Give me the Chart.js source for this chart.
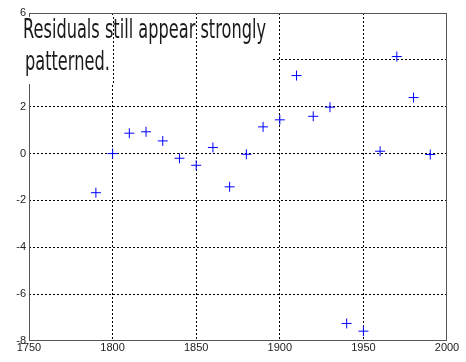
<!DOCTYPE html>
<html>
<head>
<meta charset="utf-8">
<script src="https://cdn.jsdelivr.net/npm/chart.js@4"></script>
<style>
  html, body { margin: 0; padding: 0; background: #fff; }
  #wrap { width: 466px; height: 362px; }
</style>
</head>
<body>
<div id="wrap"><canvas id="grafico" width="466" height="362"></canvas></div>
<script>
// census residuals, one per decade
const anos = [1790, 1800, 1810, 1820, 1830, 1840, 1850, 1860, 1870, 1880, 1890,
              1900, 1910, 1920, 1930, 1940, 1950, 1960, 1970, 1980, 1990];
const residuos = [-1.67, 0.0, 0.87, 0.93, 0.54, -0.2, -0.5, 0.26, -1.42, -0.03, 1.14,
                  1.44, 3.33, 1.59, 1.98, -7.25, -7.58, 0.1, 4.14, 2.39, -0.04];
const ticksX = [1750, 1800, 1850, 1900, 1950, 2000];
const ticksY = [-8, -6, -4, -2, 0, 2, 4, 6];
const nota = ["Residuals still appear strongly", "patterned."];

const fonteTick = { family: "'Liberation Sans', Arial, sans-serif", size: 11 };

// white note box over the top-left of the plot, with the text
const caixaNota = {
    id: 'caixaNota',
    afterDatasetsDraw(chart) {
        const ctx = chart.ctx;
        const area = chart.chartArea;
        const sx = chart.scales.x;
        ctx.save();
        // frame (top and right too)
        ctx.strokeStyle = '#555';
        ctx.lineWidth = 1;
        ctx.strokeRect(area.left + 0.5, area.top + 0.5, area.right - area.left - 1, area.bottom - area.top - 1);
        ctx.fillStyle = '#fff';
        ctx.fillRect(19, 17, 253, 67);
        // vertical grid lines show through the box
        ctx.strokeStyle = '#000';
        ctx.setLineDash([2, 2]);
        [1800, 1850].forEach(v => {
            const px = Math.round(sx.getPixelForValue(v)) + 0.5;
            ctx.beginPath();
            ctx.moveTo(px, 17);
            ctx.lineTo(px, 84);
            ctx.stroke();
        });
        ctx.setLineDash([]);
        // condensed look: squeeze a normal font horizontally
        ctx.fillStyle = '#1a1a1a';
        ctx.font = "27px 'DejaVu Sans', sans-serif";
        ctx.textBaseline = 'alphabetic';
        const esc = 243 / ctx.measureText(nota[0]).width;
        ctx.translate(23, 0);
        ctx.scale(esc, 1);
        ctx.fillText(nota[0], 0, 38);
        ctx.fillText(nota[1], 2 / esc, 70);
        ctx.restore();
    }
};

const ctx = document.getElementById('grafico').getContext('2d');
const graficoResiduos = new Chart(ctx, {
    type: 'scatter',
    data: {
        datasets: [{
            data: anos.map((a, i) => ({ x: a, y: residuos[i] })),
            pointStyle: 'cross',
            pointRadius: 5,
            pointHoverRadius: 5,
            borderColor: '#0000ff',
            backgroundColor: '#0000ff',
            borderWidth: 1
        }]
    },
    plugins: [caixaNota],
    options: {
        responsive: false,
        animation: false,
        layout: { padding: { top: 13, right: 19, left: 0, bottom: 0 } },
        plugins: {
            legend: { display: false },
            tooltip: { enabled: false }
        },
        scales: {
            x: {
                type: 'linear',
                min: 1750,
                max: 2000,
                afterBuildTicks: axis => { axis.ticks = ticksX.map(v => ({ value: v })); },
                afterFit: axis => { axis.height = 21; },
                ticks: { color: '#222', font: fonteTick, padding: 0, maxRotation: 0, callback: v => String(v) },
                grid: {
                    drawTicks: false,
                    color: c => (c.tick.value === 1750 || c.tick.value === 2000) ? 'rgba(0,0,0,0)' : '#000',
                    lineWidth: 1
                },
                border: { display: false, dash: [2, 2] }
            },
            y: {
                min: -8,
                max: 6,
                afterBuildTicks: axis => { axis.ticks = ticksY.map(v => ({ value: v })); },
                afterFit: axis => { axis.width = 29; },
                ticks: { color: '#222', font: fonteTick, padding: 3, callback: v => String(v) },
                grid: {
                    drawTicks: false,
                    color: c => (c.tick.value === -8 || c.tick.value === 6) ? 'rgba(0,0,0,0)' : '#000',
                    lineWidth: 1
                },
                border: { display: false, dash: [2, 2] }
            }
        }
    }
});
</script>
</body>
</html>
